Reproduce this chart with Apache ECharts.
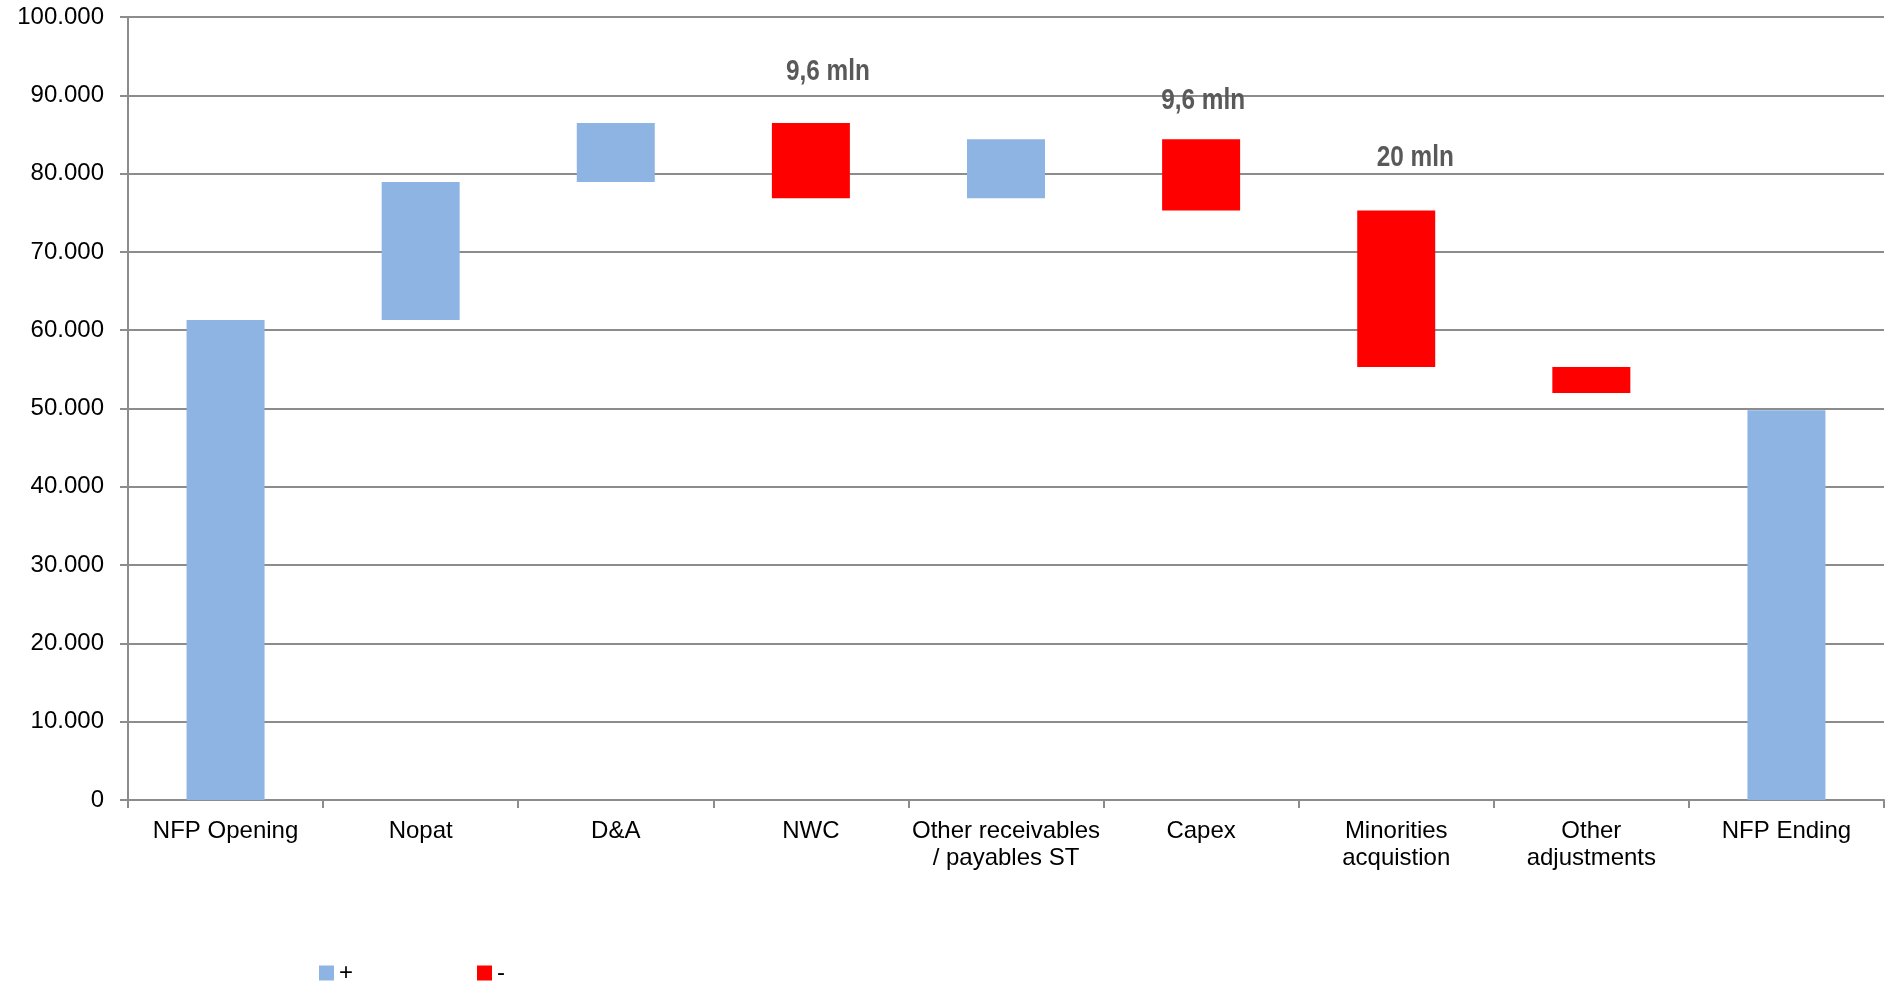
<!DOCTYPE html>
<html>
<head>
<meta charset="utf-8">
<script src="https://cdn.jsdelivr.net/npm/echarts@6/dist/echarts.min.js"></script>
<style>
html,body{margin:0;padding:0;background:#fff;}
#chart{width:1890px;height:983px;}
</style>
</head>
<body>
<div id="chart"></div>
<script>
const categories = ['NFP Opening', 'Nopat', 'D&A', 'NWC', 'Other receivables\n/ payables ST', 'Capex', 'Minorities\nacquistion', 'Other\nadjustments', 'NFP Ending'];
const baseValues = [0, 61300, 78930, 76850, 76850, 75280, 55310, 51990, 0];
const increaseValues = [61300, 17630, 7530, '-', 7530, '-', '-', '-', 49780];
const decreaseValues = ['-', '-', '-', 9610, '-', 9100, 19970, 3320, '-'];
const annotations = ['', '', '', '9,6 mln', '', '9,6 mln', '20 mln', '', ''];
const yTicks = { min: 0, max: 100000, interval: 10000 };

// pixel offsets of the annotation text relative to the top of its bar
const annotationOffsets = {3: [17, -51], 5: [2, -38], 6: [19, -53]};

const annotationData = [];
annotations.forEach((t, i) => {
  if (t) {
    const top = (baseValues[i] || 0) + (typeof decreaseValues[i] === 'number' ? decreaseValues[i] : 0) + (typeof increaseValues[i] === 'number' ? increaseValues[i] : 0);
    annotationData.push([i, top, t]);
  }
});

const chart = echarts.init(document.getElementById('chart'), null, {renderer: 'canvas'});

const option = {
  animation: false,
  backgroundColor: '#ffffff',
  grid: { left: 128, right: 6, top: 17, bottom: 183, containLabel: false },
  legend: {
    data: [{name: '+'}, {name: '-'}],
    left: 314,
    top: 956,
    itemWidth: 15,
    itemHeight: 15,
    itemGap: 124,
    icon: 'rect',
    textStyle: { fontFamily: '"Liberation Sans", Arial, sans-serif', fontSize: 24, color: '#000' }
  },
  xAxis: {
    type: 'category',
    data: categories,
    axisLine: { show: true, lineStyle: { color: '#8c8c8c', width: 2 } },
    axisTick: { show: true, length: 8, lineStyle: { color: '#8c8c8c', width: 2 } },
    axisLabel: {
      interval: 0,
      margin: 18,
      fontFamily: '"Liberation Sans", Arial, sans-serif',
      fontSize: 24,
      lineHeight: 27,
      color: '#000'
    },
    splitLine: { show: false }
  },
  yAxis: {
    type: 'value',
    min: yTicks.min,
    max: yTicks.max,
    interval: yTicks.interval,
    axisLine: { show: true, lineStyle: { color: '#8c8c8c', width: 2 } },
    axisTick: { show: true, length: 8, lineStyle: { color: '#8c8c8c', width: 2 } },
    axisLabel: {
      margin: 24,
      fontFamily: '"Liberation Sans", Arial, sans-serif',
      fontSize: 24,
      color: '#000',
      formatter: v => v === 0 ? '0' : String(v).replace(/\B(?=(\d{3})+(?!\d))/g, '.')
    },
    splitLine: { show: true, lineStyle: { color: '#8c8c8c', width: 2 } }
  },
  series: [
    {
      name: 'base',
      type: 'bar',
      stack: 'wf',
      data: baseValues,
      barWidth: 78,
      itemStyle: { color: 'transparent' },
      emphasis: { disabled: true },
      silent: true
    },
    {
      name: '+',
      type: 'bar',
      stack: 'wf',
      data: increaseValues,
      barWidth: 78,
      itemStyle: { color: '#8EB4E3' }
    },
    {
      name: '-',
      type: 'bar',
      stack: 'wf',
      data: decreaseValues,
      barWidth: 78,
      itemStyle: { color: '#FF0000' }
    },
    {
      name: 'annotations',
      type: 'custom',
      data: annotationData,
      silent: true,
      z: 10,
      encode: { x: 0, y: 1 },
      renderItem: function (params, api) {
        const idx = api.value(0);
        const p = api.coord([idx, api.value(1)]);
        const off = annotationOffsets[idx] || [0, -30];
        return {
          type: 'text',
          x: p[0] + off[0],
          y: p[1] + off[1],
          scaleX: 0.84,
          style: {
            text: annotationData[params.dataIndex][2],
            fontFamily: '"Liberation Sans", Arial, sans-serif',
            fontWeight: 'bold',
            fontSize: 29,
            fill: '#595959',
            align: 'center',
            verticalAlign: 'middle'
          }
        };
      }
    }
  ]
};

chart.setOption(option);
</script>
</body>
</html>
